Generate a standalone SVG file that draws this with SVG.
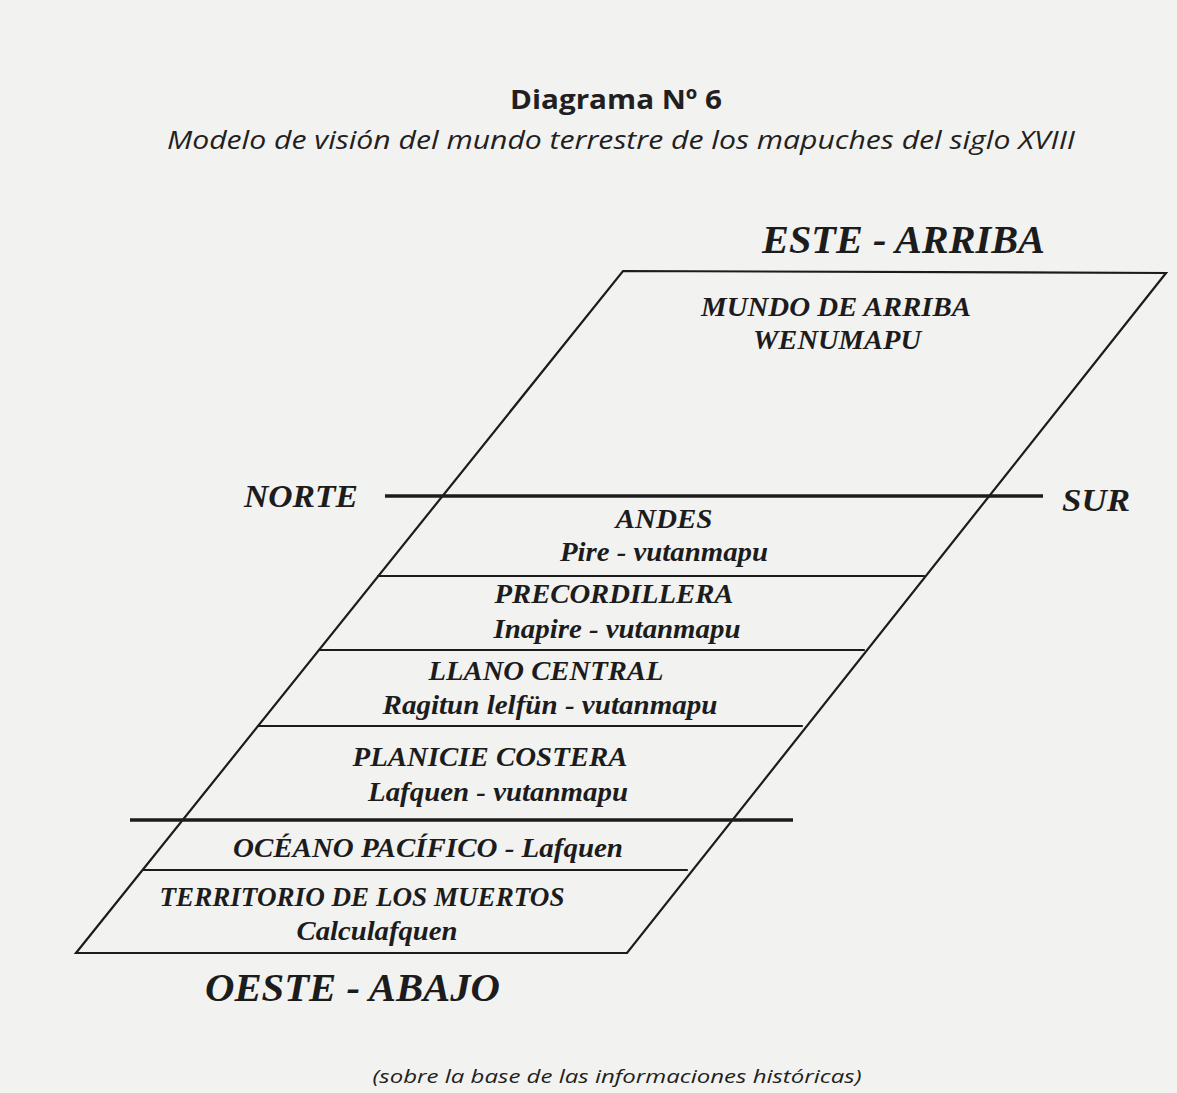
<svg xmlns="http://www.w3.org/2000/svg" width="1177" height="1093" viewBox="0 0 1177 1093">
<style>
.bg{fill:#f2f2f1}
.sans{font-family:"Open Sans","Noto Sans","Liberation Sans",sans-serif;fill:#231f20}
.ttl{font-weight:bold;font-size:27px}
.sub{font-style:italic;font-size:25px}
.foot{font-style:italic;font-size:18px}
.lbl{font-family:"Liberation Serif","Times New Roman",serif;font-weight:bold;font-style:italic;fill:#1c1c1c}
.big{font-size:40px}
.dir{font-size:32px}
.band{font-size:28px}
.edge{stroke:#1c1c1c;stroke-width:2.2;fill:none;stroke-linecap:round}
.thick{stroke:#1c1c1c;stroke-width:3.6;fill:none}
</style>
<rect class="bg" x="0" y="0" width="1177" height="1093"/>

<g id="title">
<text class="sans ttl" x="616" y="109" text-anchor="middle" textLength="212" lengthAdjust="spacingAndGlyphs">Diagrama Nº 6</text>
<text class="sans sub" x="621" y="149" text-anchor="middle" textLength="908" lengthAdjust="spacingAndGlyphs">Modelo de visión del mundo terrestre de los mapuches del siglo XVIII</text>
</g>

<g id="connectors">
<path class="edge" d="M623,271 L1166,273 L627,953 L76,953 Z"/>
<line class="thick" x1="385" y1="496" x2="1043" y2="496"/>
<line class="edge" x1="378" y1="576" x2="924" y2="576"/>
<line class="edge" x1="319" y1="650" x2="864" y2="650"/>
<line class="edge" x1="258" y1="726" x2="802" y2="726"/>
<line class="thick" x1="130" y1="820" x2="793" y2="820"/>
<line class="edge" x1="143" y1="870" x2="687" y2="870"/>
</g>

<g id="este-arriba">
<text class="lbl big" x="762" y="253" textLength="283" lengthAdjust="spacingAndGlyphs">ESTE - ARRIBA</text>
</g>
<g id="mundo-de-arriba">
<text class="lbl band" x="836" y="316" text-anchor="middle" textLength="270" lengthAdjust="spacingAndGlyphs">MUNDO DE ARRIBA</text>
<text class="lbl band" x="837" y="349" text-anchor="middle" textLength="168" lengthAdjust="spacingAndGlyphs">WENUMAPU</text>
</g>
<g id="norte">
<text class="lbl dir" x="244" y="507" textLength="114" lengthAdjust="spacingAndGlyphs">NORTE</text>
</g>
<g id="sur">
<text class="lbl dir" x="1062" y="511" textLength="68" lengthAdjust="spacingAndGlyphs">SUR</text>
</g>
<g id="andes">
<text class="lbl band" x="664" y="528" text-anchor="middle" textLength="97" lengthAdjust="spacingAndGlyphs">ANDES</text>
<text class="lbl band" x="664" y="561" text-anchor="middle" textLength="208" lengthAdjust="spacingAndGlyphs">Pire - vutanmapu</text>
</g>
<g id="precordillera">
<text class="lbl band" x="614" y="603" text-anchor="middle" textLength="239" lengthAdjust="spacingAndGlyphs">PRECORDILLERA</text>
<text class="lbl band" x="617" y="638" text-anchor="middle" textLength="247" lengthAdjust="spacingAndGlyphs">Inapire - vutanmapu</text>
</g>
<g id="llano-central">
<text class="lbl band" x="546" y="680" text-anchor="middle" textLength="235" lengthAdjust="spacingAndGlyphs">LLANO CENTRAL</text>
<text class="lbl band" x="550" y="714" text-anchor="middle" textLength="335" lengthAdjust="spacingAndGlyphs">Ragitun lelfün - vutanmapu</text>
</g>
<g id="planicie-costera">
<text class="lbl band" x="490" y="766" text-anchor="middle" textLength="275" lengthAdjust="spacingAndGlyphs">PLANICIE COSTERA</text>
<text class="lbl band" x="498" y="801" text-anchor="middle" textLength="260" lengthAdjust="spacingAndGlyphs">Lafquen - vutanmapu</text>
</g>
<g id="oceano-pacifico">
<text class="lbl band" x="428" y="857" text-anchor="middle" textLength="390" lengthAdjust="spacingAndGlyphs">OCÉANO PACÍFICO - Lafquen</text>
</g>
<g id="territorio-de-los-muertos">
<text class="lbl band" x="362" y="906" text-anchor="middle" textLength="405" lengthAdjust="spacingAndGlyphs">TERRITORIO DE LOS MUERTOS</text>
<text class="lbl band" x="377" y="940" text-anchor="middle" textLength="161" lengthAdjust="spacingAndGlyphs">Calculafquen</text>
</g>
<g id="oeste-abajo">
<text class="lbl big" x="205" y="1001" textLength="295" lengthAdjust="spacingAndGlyphs">OESTE - ABAJO</text>
</g>

<g id="footnote">
<text class="sans foot" x="617" y="1083" text-anchor="middle" textLength="489" lengthAdjust="spacingAndGlyphs">(sobre la base de las informaciones históricas)</text>
</g>
</svg>
